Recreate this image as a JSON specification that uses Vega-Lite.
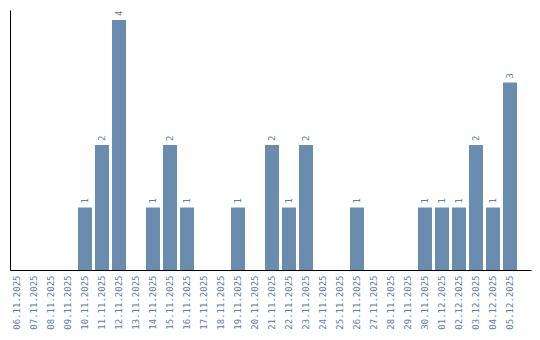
{
  "$schema": "https://vega.github.io/schema/vega-lite/v6.json",
  "width": 521,
  "height": 260,
  "autosize": "none",
  "padding": {"left": 10, "top": 10, "right": 9, "bottom": 70},
  "config": {"view": {"stroke": null}},
  "data": {"values": [
    {"date": "06.11.2025", "n": 0},
    {"date": "07.11.2025", "n": 0},
    {"date": "08.11.2025", "n": 0},
    {"date": "09.11.2025", "n": 0},
    {"date": "10.11.2025", "n": 1},
    {"date": "11.11.2025", "n": 2},
    {"date": "12.11.2025", "n": 4},
    {"date": "13.11.2025", "n": 0},
    {"date": "14.11.2025", "n": 1},
    {"date": "15.11.2025", "n": 2},
    {"date": "16.11.2025", "n": 1},
    {"date": "17.11.2025", "n": 0},
    {"date": "18.11.2025", "n": 0},
    {"date": "19.11.2025", "n": 1},
    {"date": "20.11.2025", "n": 0},
    {"date": "21.11.2025", "n": 2},
    {"date": "22.11.2025", "n": 1},
    {"date": "23.11.2025", "n": 2},
    {"date": "24.11.2025", "n": 0},
    {"date": "25.11.2025", "n": 0},
    {"date": "26.11.2025", "n": 1},
    {"date": "27.11.2025", "n": 0},
    {"date": "28.11.2025", "n": 0},
    {"date": "29.11.2025", "n": 0},
    {"date": "30.11.2025", "n": 1},
    {"date": "01.12.2025", "n": 1},
    {"date": "02.12.2025", "n": 1},
    {"date": "03.12.2025", "n": 2},
    {"date": "04.12.2025", "n": 1},
    {"date": "05.12.2025", "n": 3}
  ]},
  "encoding": {
    "x": {
      "field": "date",
      "type": "ordinal",
      "sort": null,
      "scale": {"paddingInner": 0.1765, "paddingOuter": 0.412, "align": 0},
      "axis": {
        "title": null,
        "ticks": false,
        "domainColor": "#000000",
        "domainWidth": 1,
        "labelAngle": 270,
        "labelAlign": "right",
        "labelBaseline": "middle",
        "labelPadding": 5,
        "labelFont": "DejaVu Sans Mono",
        "labelFontSize": 9,
        "labelColor": "#5b80a8",
        "labelOverlap": false
      }
    }
  },
  "layer": [
    {
      "mark": {"type": "bar", "color": "#6a8cae"},
      "encoding": {
        "y": {
          "field": "n",
          "type": "quantitative",
          "scale": {"domain": [0, 4.16], "nice": false},
          "axis": {"title": null, "labels": false, "ticks": false, "grid": false, "domainColor": "#000000", "domainWidth": 1}
        }
      }
    },
    {
      "transform": [{"filter": "datum.n > 0"}],
      "mark": {"type": "text", "angle": 270, "align": "left", "baseline": "middle", "dx": 4, "font": "DejaVu Sans Mono", "fontSize": 9, "color": "#5b80a8"},
      "encoding": {
        "y": {"field": "n", "type": "quantitative"},
        "text": {"field": "n", "type": "quantitative"}
      }
    }
  ]
}
